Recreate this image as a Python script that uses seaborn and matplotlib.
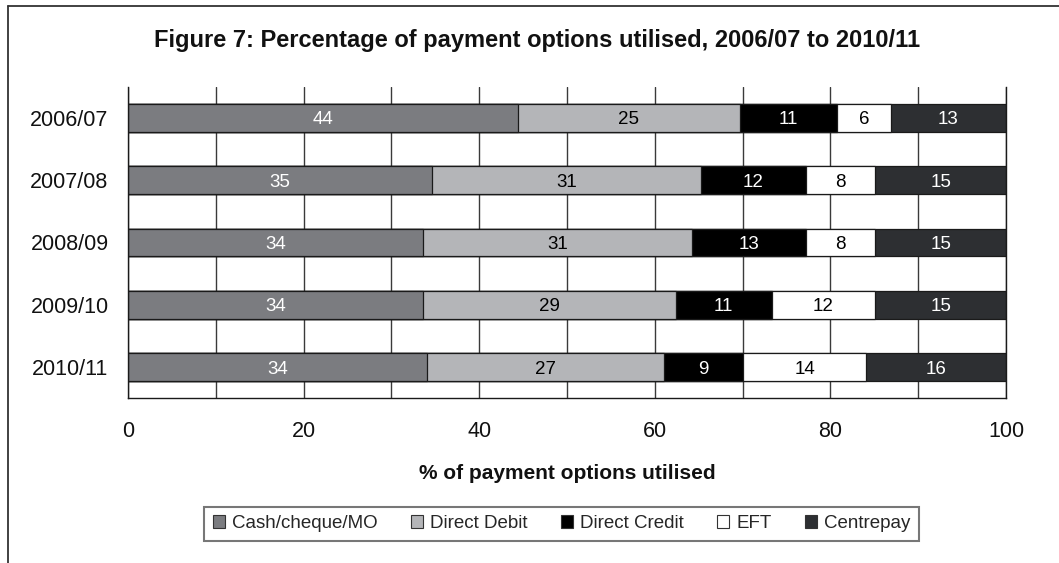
"""Stacked horizontal bars: share of payment options used per financial year."""

import matplotlib

matplotlib.use("Agg")

import matplotlib.pyplot as plt
import numpy as np
import pandas as pd
import seaborn as sns
from matplotlib.lines import Line2D
from matplotlib.patches import Patch


YEARS = ["2006/07", "2007/08", "2008/09", "2009/10", "2010/11"]
CASH = [44.4, 34.65, 33.6, 33.6, 34.1]
DIRECT_DEBIT = [25.3, 30.6, 30.6, 28.8, 26.9]
DIRECT_CREDIT = [11.1, 11.95, 13.0, 10.9, 9.1]
EFT = [6.1, 7.9, 7.9, 11.8, 14.0]
CENTREPAY = [13.1, 14.9, 14.9, 14.9, 15.9]

SERIES = ["Cash/cheque/MO", "Direct Debit", "Direct Credit", "EFT", "Centrepay"]
COLORS = ["#7b7c80", "#b4b5b8", "#000000", "#ffffff", "#2d2f32"]
TEXT_COLORS = ["white", "black", "white", "black", "white"]

TITLE = "Figure 7: Percentage of payment options utilised, 2006/07 to 2010/11"
X_LABEL = "% of payment options utilised"


def main() -> None:
    sns.set_theme(style="white")
    plt.rcParams["font.family"] = ["Liberation Sans", "DejaVu Sans"]

    frame = pd.DataFrame(
        {"year": YEARS, SERIES[0]: CASH, SERIES[1]: DIRECT_DEBIT,
         SERIES[2]: DIRECT_CREDIT, SERIES[3]: EFT, SERIES[4]: CENTREPAY}
    )
    values = frame[SERIES].to_numpy()
    cumulative = values.cumsum(axis=1)

    fig = plt.figure(figsize=(10.59, 5.63), dpi=100)
    ax = fig.add_axes([128 / 1059, 1 - 398.3 / 563, 878 / 1059, 311.6 / 563])

    # draw the longest cumulative bar first, shorter ones on top
    for i in reversed(range(len(SERIES))):
        sns.barplot(
            x=cumulative[:, i], y=frame["year"], orient="h", color=COLORS[i],
            saturation=1, width=0.44, edgecolor="#1a1a1a", linewidth=0.9,
            errorbar=None, ax=ax,
        )

    for row in range(len(YEARS)):
        for i in range(len(SERIES)):
            ax.text(
                cumulative[row, i] - values[row, i] / 2, row, f"{values[row, i]:.0f}",
                ha="center", va="center_baseline", color=TEXT_COLORS[i], fontsize=13.5,
            )

    ax.set_xlim(0, 100)
    ax.set_xticks(np.arange(0, 101, 20))
    ax.set_xticks(np.arange(0, 101, 10), minor=True)
    ax.grid(axis="x", which="both", color="#3a3a3a", linewidth=1.0)
    ax.set_axisbelow(True)
    ax.tick_params(axis="both", which="both", length=0, labelsize=15.5, colors="#111111")
    ax.tick_params(axis="x", pad=16)
    ax.tick_params(axis="y", pad=14)
    ax.set_ylabel("")
    ax.set_xlabel(X_LABEL, fontsize=15, fontweight="bold", labelpad=16, color="#111111")
    for side in ["left", "bottom", "right"]:
        ax.spines[side].set_visible(True)
        ax.spines[side].set_color("#1a1a1a")
        ax.spines[side].set_linewidth(1.0)
    ax.spines["top"].set_visible(False)

    fig.text(0.507, 1 - 40 / 563, TITLE, ha="center", va="center",
             fontsize=17, fontweight="bold", color="#111111")

    handles = [Patch(facecolor=c, edgecolor="#333333", linewidth=0.8) for c in COLORS]
    legend = fig.legend(
        handles, SERIES, loc="center", bbox_to_anchor=(561.7 / 1059, 1 - 523.7 / 563),
        ncol=5, fontsize=13.5, frameon=True, fancybox=False, handlelength=0.65,
        handleheight=0.65, handletextpad=0.4, columnspacing=1.75, borderpad=0.45,
    )
    legend.get_frame().set_edgecolor("#555555")
    legend.get_frame().set_linewidth(1.5)

    # outer frame: top and left edges only
    fig.add_artist(Line2D([8 / 1059, 1], [1 - 5.7 / 563] * 2, transform=fig.transFigure,
                          color="#333333", linewidth=1.3))
    fig.add_artist(Line2D([8 / 1059] * 2, [0, 1 - 5.7 / 563], transform=fig.transFigure,
                          color="#333333", linewidth=1.3))

    fig.savefig("out.png", dpi=100)
    plt.close(fig)


if __name__ == "__main__":
    main()
